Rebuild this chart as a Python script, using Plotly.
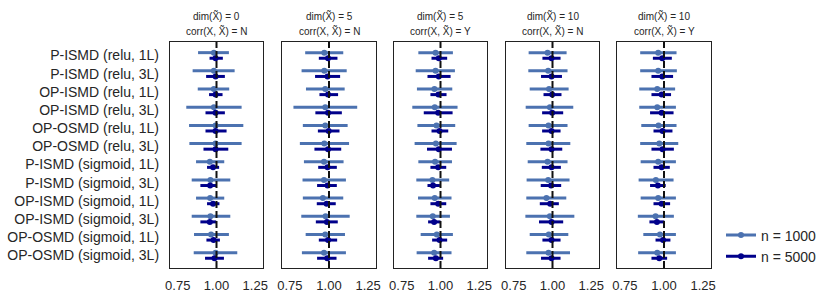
import plotly.graph_objects as go

categories = [
    "P-ISMD (relu, 1L)", "P-ISMD (relu, 3L)", "OP-ISMD (relu, 1L)", "OP-ISMD (relu, 3L)",
    "OP-OSMD (relu, 1L)", "OP-OSMD (relu, 3L)", "P-ISMD (sigmoid, 1L)", "P-ISMD (sigmoid, 3L)",
    "OP-ISMD (sigmoid, 1L)", "OP-ISMD (sigmoid, 3L)", "OP-OSMD (sigmoid, 1L)", "OP-OSMD (sigmoid, 3L)",
]
panel_dims = ["0", "5", "5", "10", "10"]
panel_corr = ["N", "N", "Y", "N", "Y"]
series_names = ["n = 1000", "n = 5000"]
x_tickvals = [0.75, 1.00, 1.25]
x_ticktext = ["0.75", "1.00", "1.25"]

# n = 1000 : point estimate, lower, upper (one list per panel)
n1000_point = [
    [0.983, 0.983, 0.983, 0.983, 0.994, 0.994, 0.957, 0.961, 0.959, 0.961, 0.965, 0.994],
    [0.970, 0.970, 0.976, 0.976, 0.976, 0.970, 0.968, 0.968, 0.961, 0.978, 0.976, 0.968],
    [0.968, 0.968, 0.961, 0.963, 0.974, 0.970, 0.965, 0.948, 0.963, 0.950, 0.976, 0.959],
    [0.968, 0.972, 0.978, 0.983, 0.974, 0.974, 0.968, 0.972, 0.961, 0.983, 0.976, 0.974],
    [0.963, 0.963, 0.957, 0.957, 0.965, 0.970, 0.963, 0.948, 0.963, 0.946, 0.974, 0.957],
]
n1000_low = [
    [0.881, 0.846, 0.879, 0.805, 0.823, 0.825, 0.868, 0.840, 0.868, 0.840, 0.855, 0.853],
    [0.848, 0.825, 0.853, 0.773, 0.833, 0.814, 0.840, 0.831, 0.833, 0.823, 0.851, 0.827],
    [0.857, 0.840, 0.848, 0.818, 0.851, 0.833, 0.857, 0.844, 0.855, 0.844, 0.872, 0.846],
    [0.846, 0.844, 0.853, 0.827, 0.846, 0.831, 0.840, 0.833, 0.831, 0.825, 0.853, 0.831],
    [0.848, 0.848, 0.842, 0.842, 0.855, 0.848, 0.851, 0.838, 0.851, 0.833, 0.868, 0.835],
]
n1000_high = [
    [1.080, 1.117, 1.082, 1.162, 1.173, 1.162, 1.050, 1.089, 1.050, 1.089, 1.080, 1.134],
    [1.091, 1.113, 1.100, 1.180, 1.119, 1.128, 1.093, 1.108, 1.091, 1.132, 1.102, 1.108],
    [1.080, 1.093, 1.076, 1.110, 1.095, 1.104, 1.074, 1.056, 1.071, 1.061, 1.080, 1.071],
    [1.091, 1.097, 1.104, 1.134, 1.097, 1.115, 1.097, 1.110, 1.089, 1.141, 1.102, 1.113],
    [1.080, 1.082, 1.071, 1.076, 1.080, 1.091, 1.076, 1.061, 1.076, 1.063, 1.076, 1.076],
]
# n = 5000
n5000_point = [
    [0.994, 0.994, 0.994, 0.994, 0.994, 0.994, 0.978, 0.959, 0.978, 0.957, 0.981, 0.987],
    [0.994, 0.991, 0.994, 0.994, 0.998, 0.994, 0.991, 0.991, 0.985, 0.987, 0.994, 0.989],
    [0.989, 0.989, 0.987, 0.985, 0.994, 0.989, 0.985, 0.952, 0.985, 0.959, 0.994, 0.970],
    [0.994, 0.994, 0.998, 0.998, 0.994, 0.994, 0.994, 0.991, 0.985, 0.994, 0.994, 0.994],
    [0.989, 0.989, 0.985, 0.985, 0.991, 0.991, 0.985, 0.961, 0.985, 0.955, 0.994, 0.970],
]
n5000_low = [
    [0.955, 0.933, 0.952, 0.929, 0.929, 0.916, 0.939, 0.896, 0.939, 0.896, 0.935, 0.926],
    [0.935, 0.911, 0.939, 0.913, 0.929, 0.907, 0.931, 0.924, 0.922, 0.916, 0.935, 0.924],
    [0.942, 0.916, 0.935, 0.892, 0.942, 0.913, 0.935, 0.916, 0.935, 0.920, 0.946, 0.920],
    [0.935, 0.926, 0.942, 0.933, 0.933, 0.922, 0.931, 0.924, 0.918, 0.913, 0.935, 0.926],
    [0.929, 0.920, 0.920, 0.911, 0.933, 0.920, 0.933, 0.911, 0.933, 0.907, 0.946, 0.920],
]
n5000_high = [
    [1.041, 1.054, 1.039, 1.054, 1.065, 1.076, 1.017, 1.000, 1.019, 0.998, 1.022, 1.048],
    [1.054, 1.071, 1.058, 1.082, 1.067, 1.078, 1.050, 1.050, 1.043, 1.056, 1.052, 1.048],
    [1.043, 1.065, 1.039, 1.078, 1.050, 1.074, 1.037, 0.996, 1.037, 1.000, 1.043, 1.017],
    [1.052, 1.061, 1.058, 1.069, 1.052, 1.063, 1.054, 1.056, 1.041, 1.069, 1.052, 1.052],
    [1.050, 1.058, 1.045, 1.061, 1.054, 1.063, 1.037, 1.011, 1.039, 1.002, 1.041, 1.020],
]

W, H = 830, 301
FONT = "Liberation Sans, Arial, Helvetica, sans-serif"
TXT = "#262626"
colors = ["#4C72B0", "#00008B"]
dodge = [-0.154, 0.154]
panel_px = [(170, 263), (282, 376), (394, 487), (506, 599), (617, 711)]
top_px, bot_px = 42, 268
ydom = [1 - bot_px / H, 1 - top_px / H]

fig = go.Figure()
series = [(n1000_point, n1000_low, n1000_high), (n5000_point, n5000_low, n5000_high)]
ypos = list(range(len(categories)))

for k in range(5):
    ax = "" if k == 0 else str(k + 1)
    for s, (pt, lo, hi) in enumerate(series):
        p, l, h = pt[k], lo[k], hi[k]
        fig.add_trace(go.Scatter(
            x=p, y=[y + dodge[s] for y in ypos],
            mode="markers",
            marker=dict(size=6, color=colors[s]),
            error_x=dict(type="data", symmetric=False,
                         array=[b - a for a, b in zip(p, h)],
                         arrayminus=[a - b for a, b in zip(p, l)],
                         width=0, thickness=3, color=colors[s]),
            xaxis="x" + ax, yaxis="y" + ax, showlegend=False,
        ))
    x0, x1 = panel_px[k]
    axis_common = dict(showline=True, mirror=True, linecolor="#222222", linewidth=1.3,
                       showgrid=False, zeroline=False, automargin=False)
    fig.update_layout({
        "xaxis" + ax: dict(domain=[x0 / W, x1 / W], range=[0.7, 1.3], anchor="y" + ax,
                           tickvals=x_tickvals, ticktext=x_ticktext,
                           ticks="outside", ticklen=5, tickcolor="rgba(0,0,0,0)",
                           tickfont=dict(size=13, color=TXT, family=FONT), **axis_common),
        "yaxis" + ax: dict(domain=ydom, range=[11.69, -0.74], anchor="x" + ax,
                           tickvals=ypos, ticktext=categories if k == 0 else [""] * len(ypos),
                           showticklabels=(k == 0),
                           ticks="outside", ticklen=7, tickcolor="rgba(0,0,0,0)",
                           tickfont=dict(size=14, color=TXT, family=FONT), **axis_common),
    })
    fig.add_shape(type="line", xref="x" + ax, yref="y" + ax + " domain",
                  x0=1, x1=1, y0=0, y1=1, layer="above",
                  line=dict(color="#111111", width=2, dash="7px,3px"))
    cx = (x0 + x1) / 2 / W
    fig.add_annotation(text=f"dim(X\u0303) = {panel_dims[k]}", x=cx, y=1 - 16 / H,
                       xref="paper", yref="paper", showarrow=False,
                       xanchor="center", yanchor="middle",
                       font=dict(size=10, color=TXT, family=FONT))
    fig.add_annotation(text=f"corr(X, X\u0303) = {panel_corr[k]}", x=cx, y=1 - 31 / H,
                       xref="paper", yref="paper", showarrow=False,
                       xanchor="center", yanchor="middle",
                       font=dict(size=10, color=TXT, family=FONT))

for s in range(2):
    fig.add_trace(go.Scatter(x=[None], y=[None], mode="lines+markers", name=series_names[s],
                             line=dict(color=colors[s], width=3),
                             marker=dict(size=6, color=colors[s]), showlegend=True))

fig.update_layout(
    width=W, height=H, margin=dict(l=0, r=0, t=0, b=0),
    paper_bgcolor="white", plot_bgcolor="white",
    font=dict(family=FONT, color=TXT, size=13),
    legend=dict(x=721 / W, y=1 - 246 / H, xanchor="left", yanchor="middle",
                font=dict(size=14, color=TXT, family=FONT), bgcolor="rgba(0,0,0,0)",
                tracegroupgap=0, itemwidth=30),
)

fig.write_html("out.html", config={"displayModeBar": False},
               post_script="document.body.style.margin='0';")
